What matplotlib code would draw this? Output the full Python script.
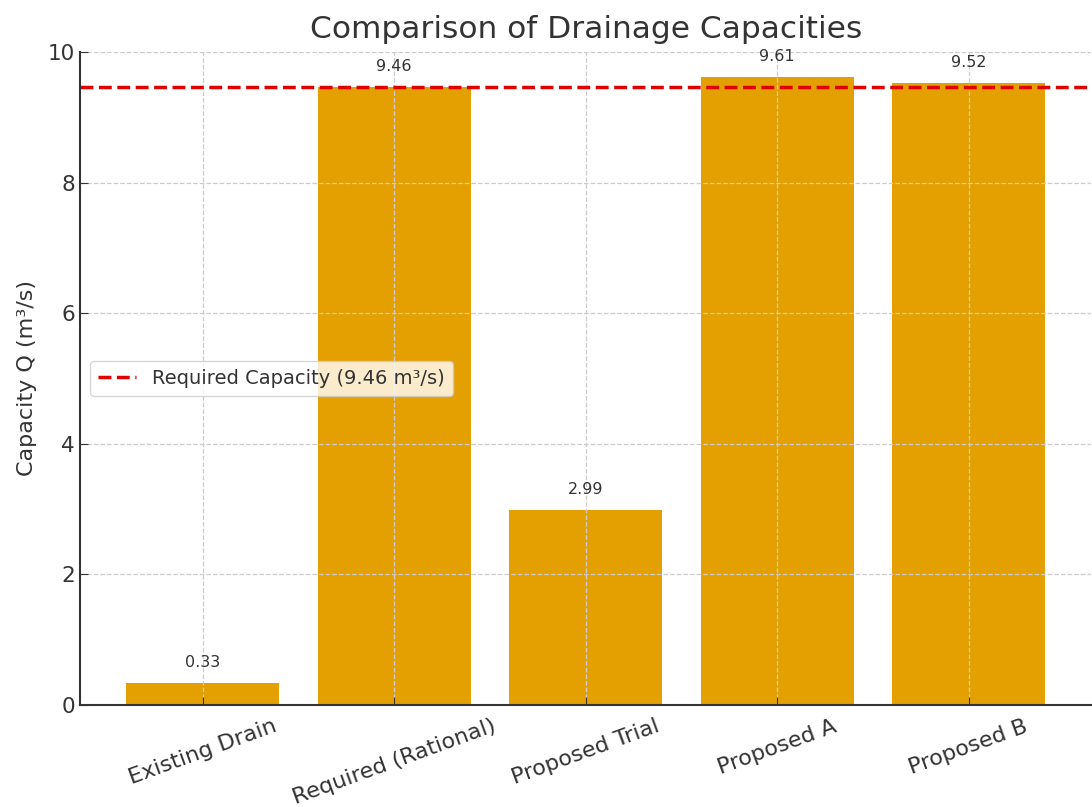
import matplotlib
matplotlib.use("Agg")
import matplotlib.pyplot as plt

# drainage capacities (m³/s)
labels = ["Existing Drain", "Required (Rational)", "Proposed Trial", "Proposed A", "Proposed B"]
capacities = [0.33, 9.46, 2.99, 9.61, 9.52]
required_q = 9.46

text_col = "#333333"
plt.rcParams["text.color"] = text_col
plt.rcParams["axes.labelcolor"] = text_col
plt.rcParams["xtick.color"] = text_col
plt.rcParams["ytick.color"] = text_col

fig = plt.figure(figsize=(10.92, 8.07), dpi=100)
ax = fig.add_axes([0.0733, 0.1264, 0.926, 0.8092])

ax.bar(labels, capacities, color="#E3A000", width=0.8)
ax.axhline(required_q, color="#E00000", linestyle="--", linewidth=2.5,
           label=f"Required Capacity ({required_q} m³/s)")

for i, v in enumerate(capacities):
    ax.text(i, v + 0.2, f"{v:.2f}", ha="center", va="bottom", fontsize=11.5)

ax.set_ylim(0, 10)
ax.set_title("Comparison of Drainage Capacities", fontsize=22.5, pad=10)
ax.set_ylabel("Capacity Q (m³/s)", fontsize=16, labelpad=8)
ax.tick_params(axis="both", direction="in", length=6, labelsize=15.5)
ax.tick_params(axis="x", pad=8, labelsize=16)
plt.setp(ax.get_xticklabels(), rotation=20)
ax.grid(True, linestyle="--", color="#cccccc", linewidth=0.9)

for s in ["top", "right"]:
    ax.spines[s].set_visible(False)
for s in ["left", "bottom"]:
    ax.spines[s].set_color(text_col)
    ax.spines[s].set_linewidth(1.5)

ax.legend(loc="center left", fontsize=14, framealpha=0.8)

fig.savefig("out.png", dpi=100)
